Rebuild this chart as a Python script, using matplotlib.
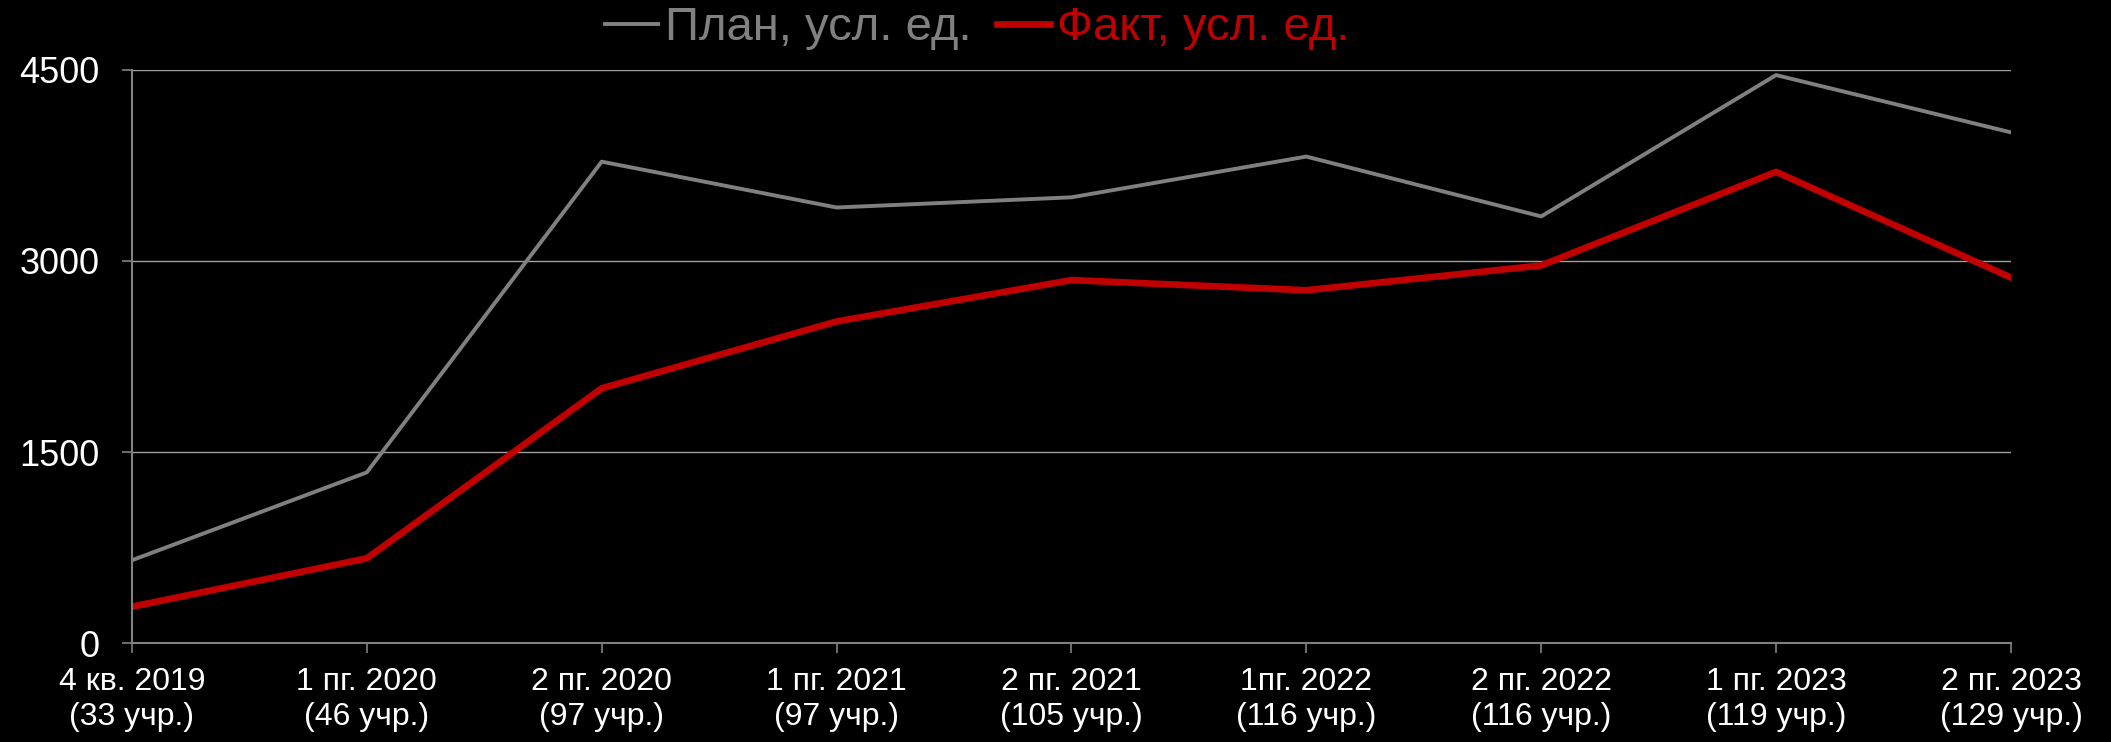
import matplotlib
matplotlib.use("Agg")
import matplotlib.pyplot as plt

periods = ['4 кв. 2019\n(33 учр.)', '1 пг. 2020\n(46 учр.)', '2 пг. 2020\n(97 учр.)',
           '1 пг. 2021\n(97 учр.)', '2 пг. 2021\n(105 учр.)', '1пг. 2022\n(116 учр.)',
           '2 пг. 2022\n(116 учр.)', '1 пг. 2023\n(119 учр.)', '2 пг. 2023\n(129 учр.)']
plan = [650, 1340, 3780, 3420, 3500, 3820, 3350, 4460, 4010]
fact = [285, 665, 2000, 2525, 2850, 2770, 2965, 3700, 2870]
yticks = [0, 1500, 3000, 4500]

gray = '#808080'
red = '#C00000'
font = 'Liberation Sans'

fig = plt.figure(figsize=(21.11, 7.42), dpi=100, facecolor='black')
ax = fig.add_axes([0.0625, 0.1334, 0.8901, 0.7723])
ax.set_facecolor('black')

x = range(len(periods))
ax.plot(x, plan, color=gray, lw=2.8, label='План, усл. ед.')
ax.plot(x, fact, color=red, lw=4.8, label='Факт, усл. ед.')

ax.set_xlim(0, len(periods) - 1)
ax.set_ylim(0, 4500)
ax.set_yticks(yticks)
ax.set_xticks(list(x))
ax.set_xticklabels(periods, fontsize=23, color='white', family=font, linespacing=1.2)
ax.set_yticklabels([str(v) for v in yticks], fontsize=26, color='white', family=font)
ax.yaxis.grid(True, color='#a0a0a0', lw=1)
ax.set_axisbelow(True)
ax.tick_params(axis='both', colors=gray, length=7.5, width=1.2)
ax.tick_params(axis='x', labelcolor='white', pad=10)
ax.tick_params(axis='y', labelcolor='white', pad=16)
for s in ['top', 'right']:
    ax.spines[s].set_visible(False)
for s in ['left', 'bottom']:
    ax.spines[s].set_color(gray)
    ax.spines[s].set_linewidth(1.5)

leg = ax.legend(loc='center', bbox_to_anchor=(0.463, 0.962), bbox_transform=fig.transFigure,
                ncol=2, frameon=False, prop={'family': font, 'size': 34},
                handlelength=1.13, handletextpad=0.15, columnspacing=0.53)
for t, c in zip(leg.get_texts(), [gray, red]):
    t.set_color(c)

fig.savefig('out.png', dpi=100, facecolor='black')
